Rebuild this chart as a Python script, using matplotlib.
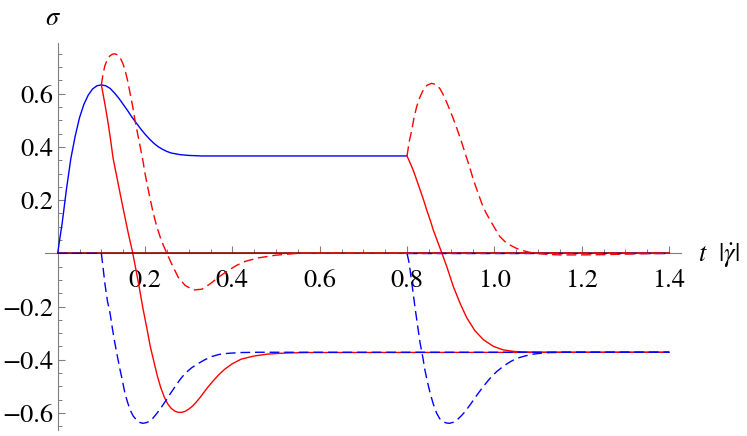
import matplotlib
matplotlib.use("Agg")
import matplotlib.pyplot as plt
import numpy as np
from matplotlib.ticker import FixedLocator

plt.rcParams['font.family'] = ['STIXGeneral', 'Liberation Serif', 'DejaVu Serif']
plt.rcParams['mathtext.fontset'] = 'stix'

# ---------------- data ----------------
blue_solid_t = [0, 0.005, 0.01, 0.02, 0.03, 0.04, 0.05, 0.06, 0.07, 0.08, 0.09, 0.1,
                0.11, 0.12, 0.13, 0.14, 0.15, 0.16, 0.17, 0.18, 0.19, 0.2, 0.21, 0.22,
                0.23, 0.24, 0.25, 0.26, 0.28, 0.30, 0.33, 0.38, 0.8]
blue_solid_s = [0, 0.057, 0.11, 0.24, 0.355, 0.44, 0.51, 0.56, 0.595, 0.618, 0.63, 0.633,
                0.63, 0.62, 0.603, 0.583, 0.56, 0.537, 0.512, 0.49, 0.468, 0.448, 0.43, 0.414,
                0.401, 0.391, 0.383, 0.377, 0.371, 0.368, 0.366, 0.366, 0.366]

red_solid1_t = [0.1, 0.104, 0.108, 0.112, 0.116, 0.121, 0.127, 0.134, 0.141, 0.148, 0.156,
                0.163, 0.171, 0.179, 0.187, 0.195, 0.204, 0.212, 0.22, 0.228, 0.236, 0.244,
                0.252, 0.26, 0.268, 0.276, 0.284, 0.292, 0.3, 0.309, 0.318, 0.327, 0.336,
                0.345, 0.357, 0.368, 0.383, 0.4, 0.42, 0.45, 0.48, 0.52, 0.57, 1.4]
red_solid1_s = [0.633, 0.598, 0.562, 0.524, 0.484, 0.428, 0.356, 0.299, 0.241, 0.184, 0.12,
                0.065, 0.008, -0.06, -0.13, -0.205, -0.28, -0.35, -0.405, -0.46, -0.505, -0.54,
                -0.566, -0.583, -0.593, -0.598, -0.598, -0.594, -0.586, -0.574, -0.558, -0.54, -0.52,
                -0.501, -0.478, -0.458, -0.435, -0.415, -0.398, -0.386, -0.379, -0.375, -0.373, -0.372]

red_dash1_t = [0.1, 0.104, 0.108, 0.114, 0.12, 0.126, 0.131, 0.137, 0.143, 0.149, 0.154,
               0.16, 0.166, 0.172, 0.177, 0.183, 0.189, 0.195, 0.2, 0.206, 0.211, 0.219,
               0.227, 0.235, 0.242, 0.25, 0.261, 0.276, 0.292, 0.311, 0.33, 0.349, 0.368,
               0.39, 0.41, 0.43, 0.46, 0.5, 0.55, 1.4]
red_dash1_s = [0.633, 0.675, 0.705, 0.73, 0.743, 0.749, 0.75, 0.746, 0.735, 0.715, 0.69,
               0.65, 0.6, 0.55, 0.5, 0.45, 0.4, 0.35, 0.3, 0.25, 0.21, 0.15,
               0.1, 0.06, 0.03, 0.0, -0.04, -0.09, -0.121, -0.138, -0.135, -0.115, -0.09,
               -0.065, -0.045, -0.03, -0.017, -0.007, 0.0, 0.0]

blue_dash1_t = [0, 0.1, 0.104, 0.108, 0.114, 0.12, 0.126, 0.131, 0.137, 0.143, 0.149, 0.154,
                0.16, 0.166, 0.173, 0.181, 0.188, 0.195, 0.202, 0.21, 0.218, 0.227, 0.236,
                0.246, 0.257, 0.269, 0.28, 0.292, 0.307, 0.322, 0.337, 0.353, 0.37, 0.39,
                0.42, 0.46, 0.55, 1.4]
blue_dash1_s = [0, 0, -0.055, -0.113, -0.18, -0.226, -0.29, -0.338, -0.39, -0.439, -0.485, -0.526,
                -0.56, -0.589, -0.612, -0.627, -0.636, -0.639, -0.637, -0.632, -0.62, -0.602, -0.582,
                -0.558, -0.53, -0.501, -0.475, -0.451, -0.43, -0.414, -0.4, -0.388, -0.38, -0.376,
                -0.373, -0.372, -0.372, -0.372]

red_solid2_t = [0.8, 0.807, 0.814, 0.822, 0.83, 0.838, 0.845, 0.853, 0.86, 0.87, 0.88, 0.891,
                0.906, 0.922, 0.937, 0.955, 0.975, 0.998, 1.02, 1.045, 1.07, 1.104, 1.4]
red_solid2_s = [0.366, 0.34, 0.313, 0.276, 0.238, 0.2, 0.163, 0.125, 0.088, 0.044, 0.0, -0.05,
                -0.125, -0.19, -0.243, -0.29, -0.325, -0.35, -0.363, -0.369, -0.371, -0.372, -0.372]

red_dash2_t = [0.8, 0.805, 0.811, 0.816, 0.822, 0.829, 0.837, 0.846, 0.856, 0.865, 0.875, 0.885,
               0.895, 0.905, 0.914, 0.924, 0.933, 0.943, 0.952, 0.962, 0.971, 0.98, 0.99, 1.0,
               1.013, 1.025, 1.036, 1.05, 1.066, 1.08, 1.097, 1.12, 1.15, 1.2, 1.25, 1.3, 1.35, 1.4]
red_dash2_s = [0.366, 0.42, 0.464, 0.51, 0.551, 0.585, 0.614, 0.632, 0.639, 0.635, 0.62, 0.59,
               0.551, 0.51, 0.47, 0.423, 0.376, 0.326, 0.276, 0.23, 0.188, 0.155, 0.125, 0.097,
               0.062, 0.043, 0.031, 0.019, 0.01, 0.004, 0.0, -0.004, -0.006, -0.006, -0.005, -0.003, -0.001, 0.0]

blue_dash2_t = [0.8, 0.804, 0.807, 0.812, 0.818, 0.824, 0.83, 0.836, 0.841, 0.847, 0.853, 0.86,
                0.868, 0.875, 0.883, 0.89, 0.898, 0.906, 0.914, 0.923, 0.933, 0.946, 0.96, 0.975,
                0.99, 1.005, 1.021, 1.036, 1.051, 1.07, 1.089, 1.11, 1.128, 1.17, 1.4]
blue_dash2_s = [0, -0.03, -0.063, -0.125, -0.2, -0.27, -0.338, -0.39, -0.439, -0.485, -0.526, -0.566,
                -0.602, -0.622, -0.633, -0.638, -0.639, -0.635, -0.627, -0.613, -0.595, -0.566, -0.533, -0.5,
                -0.47, -0.445, -0.424, -0.408, -0.395, -0.386, -0.379, -0.375, -0.373, -0.372, -0.372]

zero_t = [0, 1.4]
zero_s = [0, 0]
blue_zero_t = [0.8, 1.4]
blue_zero_s = [0, 0]

xticks = [0.2, 0.4, 0.6, 0.8, 1.0, 1.2, 1.4]
xticklabels = ["0.2", "0.4", "0.6", "0.8", "1.0", "1.2", "1.4"]
yticks = [-0.6, -0.4, -0.2, 0.2, 0.4, 0.6]
yticklabels = ["\u22120.6", "\u22120.4", "\u22120.2", "0.2", "0.4", "0.6"]

# ---------------- figure ----------------
fig = plt.figure(figsize=(7.47, 4.36), dpi=100)
ax = fig.add_axes([0, 0, 1, 1])
ax.set_xlim(-0.1321, 1.5785)
ax.set_ylim(-0.6868, 0.9523)
ax.patch.set_visible(False)

RED = '#ff0000'
BLUE = '#0000ff'
DR = '#9a0000'
lw = 1.0
dash = (0, (7, 3.5))

ax.plot(blue_solid_t, blue_solid_s, color=BLUE, lw=lw, zorder=3)
ax.plot(red_solid1_t, red_solid1_s, color=RED, lw=lw, zorder=3)
ax.plot(red_solid2_t, red_solid2_s, color=RED, lw=lw, zorder=3)
ax.plot(zero_t, zero_s, color=DR, lw=1.2, zorder=3)
ax.plot(blue_dash1_t, blue_dash1_s, color=BLUE, lw=lw, ls=dash, zorder=4)
ax.plot(blue_dash2_t, blue_dash2_s, color=BLUE, lw=lw, ls=dash, zorder=4)
ax.plot(blue_zero_t, blue_zero_s, color=BLUE, lw=lw, ls=dash, zorder=4)
ax.plot(red_dash1_t, red_dash1_s, color=RED, lw=lw, ls=dash, zorder=5)
ax.plot(red_dash2_t, red_dash2_s, color=RED, lw=lw, ls=dash, zorder=5)

# axes through the origin
for s in ['top', 'right']:
    ax.spines[s].set_visible(False)
ax.spines['left'].set_position(('data', 0))
ax.spines['bottom'].set_position(('data', 0))
ax.spines['left'].set_bounds(-0.665, 0.792)
ax.spines['bottom'].set_bounds(-0.029, 1.428)
gray = '#7f7f7f'
for s in ['left', 'bottom']:
    ax.spines[s].set_color(gray)
    ax.spines[s].set_linewidth(0.8)
    ax.spines[s].set_zorder(2)

ax.set_xticks(xticks)
ax.set_xticklabels(xticklabels)
ax.set_yticks(yticks)
ax.set_yticklabels(yticklabels)
ax.xaxis.set_minor_locator(FixedLocator(np.round(np.arange(0.05, 1.401, 0.05), 3)))
ax.yaxis.set_minor_locator(FixedLocator(np.round(np.arange(-0.65, 0.751, 0.05), 3)))
ax.tick_params(which='major', direction='in', length=5, width=0.8, color=gray,
               labelsize=19, labelcolor='black')
ax.tick_params(which='minor', direction='in', length=3, width=0.7, color=gray)
ax.tick_params(axis='x', which='major', pad=11)
ax.tick_params(axis='y', which='major', pad=3)

ax.text(53 / 747, 1 - 19 / 436, r"$\sigma$", transform=ax.transAxes,
        fontsize=19, ha='center', va='center')
ax.text(698 / 747, 1 - 256 / 436, r"$t\ \ |\dot{\gamma}|$", transform=ax.transAxes,
        fontsize=19, ha='left', va='center')

fig.savefig("out.png", dpi=100)
